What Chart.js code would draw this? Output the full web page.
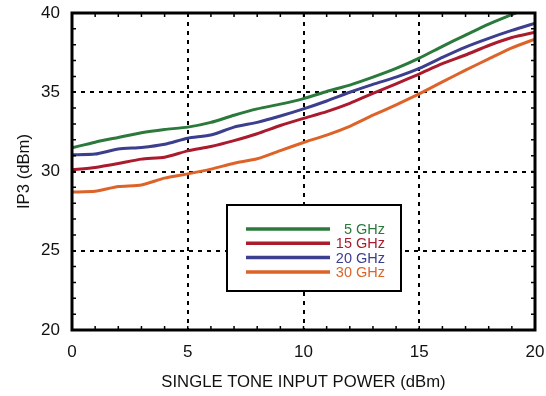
<!DOCTYPE html>
<html>
<head>
<meta charset="utf-8">
<script src="https://cdn.jsdelivr.net/npm/chart.js@4.4.1/dist/chart.umd.min.js"></script>
<style>
  html, body { margin: 0; padding: 0; background: #fff; }
  #wrap { width: 546px; height: 396px; }
</style>
</head>
<body>
<div id="wrap"><canvas id="ip3chart" width="546" height="396"></canvas></div>
<script>
// input power (dBm)
const inputPower = [0, 1, 2, 3, 4, 5, 6, 7, 8, 9, 10, 11, 12, 13, 14, 15, 16, 17, 18, 19, 20];
const seriesLabels = ['5 GHz', '15 GHz', '20 GHz', '30 GHz'];
const seriesColors = ['#2b7a3c', '#aa1b2d', '#3c3e8e', '#de6328'];
// IP3 (dBm)
const ip3_5GHz  = [31.5, 31.85, 32.15, 32.45, 32.65, 32.8, 33.1, 33.55, 33.95, 34.25, 34.6, 35.05, 35.45, 35.95, 36.5, 37.15, 37.9, 38.6, 39.3, 39.9, 40.5];
const ip3_15GHz = [30.1, 30.25, 30.5, 30.78, 30.9, 31.3, 31.58, 31.95, 32.38, 32.9, 33.35, 33.78, 34.3, 34.93, 35.53, 36.15, 36.8, 37.35, 37.95, 38.45, 38.78];
const ip3_20GHz = [31.05, 31.1, 31.42, 31.52, 31.72, 32.1, 32.3, 32.8, 33.1, 33.5, 33.95, 34.45, 35.0, 35.5, 35.95, 36.5, 37.2, 37.85, 38.4, 38.9, 39.35];
const ip3_30GHz = [28.7, 28.75, 29.05, 29.15, 29.58, 29.85, 30.15, 30.52, 30.8, 31.32, 31.83, 32.3, 32.85, 33.55, 34.2, 34.9, 35.65, 36.4, 37.1, 37.8, 38.35];
const xTicks = [0, 5, 10, 15, 20];
const yTicks = [20, 25, 30, 35, 40];

const allSeries = [ip3_5GHz, ip3_15GHz, ip3_20GHz, ip3_30GHz];
const FONT = 'Liberation Sans, Arial, Helvetica, sans-serif';

function toPoints(ys) {
  return inputPower.map(function (x, i) { return { x: x, y: ys[i] }; });
}

// frame, inside minor ticks and boxed legend
const framePlugin = {
  id: 'frame',
  afterDatasetsDraw: function (chart) {
    const ctx = chart.ctx;
    const a = chart.chartArea;
    const xs = chart.scales.x, ys = chart.scales.y;
    ctx.save();
    ctx.strokeStyle = '#000';
    ctx.lineWidth = 1.5;
    ctx.beginPath();
    for (let v = 1; v < 20; v++) {
      const px = xs.getPixelForValue(v);
      ctx.moveTo(px, a.bottom); ctx.lineTo(px, a.bottom - 4);
      ctx.moveTo(px, a.top); ctx.lineTo(px, a.top + 4);
    }
    for (let v = 21; v < 40; v++) {
      const py = ys.getPixelForValue(v);
      ctx.moveTo(a.left, py); ctx.lineTo(a.left + 4, py);
      ctx.moveTo(a.right, py); ctx.lineTo(a.right - 4, py);
    }
    ctx.stroke();
    ctx.lineWidth = 3;
    ctx.strokeRect(a.left, a.top, a.right - a.left, a.bottom - a.top);

    // legend box
    const bx = a.left + 155, by = a.top + 192, bw = 174, bh = 86;
    ctx.fillStyle = '#fff';
    ctx.fillRect(bx, by, bw, bh);
    ctx.lineWidth = 2;
    ctx.strokeRect(bx, by, bw, bh);
    ctx.font = '14.5px ' + FONT;
    ctx.textAlign = 'right';
    ctx.textBaseline = 'middle';
    chart.data.datasets.forEach(function (ds, i) {
      const ry = by + 24 + i * 14.3;
      ctx.strokeStyle = ds.borderColor;
      ctx.lineWidth = 3.5;
      ctx.beginPath();
      ctx.moveTo(bx + 19, ry); ctx.lineTo(bx + 103, ry);
      ctx.stroke();
      ctx.fillStyle = ds.borderColor;
      ctx.fillText(ds.label, bx + 158, ry + 1);
    });
    ctx.restore();
  }
};

const chartdata = {
  datasets: allSeries.map(function (ys, i) {
    return {
      label: seriesLabels[i],
      data: toPoints(ys),
      borderColor: seriesColors[i],
      backgroundColor: seriesColors[i],
      borderWidth: 3,
      pointRadius: 0,
      tension: 0.2,
      fill: false
    };
  })
};

const config = {
  type: 'line',
  data: chartdata,
  options: {
    responsive: false,
    animation: false,
    layout: { padding: { top: 13, right: 11, left: 0, bottom: 0 } },
    plugins: {
      legend: { display: false },
      tooltip: { enabled: false }
    },
    scales: {
      x: {
        type: 'linear',
        min: 0,
        max: 20,
        afterBuildTicks: function (scale) { scale.ticks = xTicks.map(function (v) { return { value: v }; }); },
        afterFit: function (scale) { scale.height = 66; scale.paddingLeft = 0; scale.paddingRight = 0; },
        ticks: { padding: 12, color: '#111', font: { family: FONT, size: 17 } },
        grid: {
          drawTicks: false,
          lineWidth: 2,
          color: function (c) { return (c.tick && (c.tick.value === 0 || c.tick.value === 20)) ? 'rgba(0,0,0,0)' : '#000'; }
        },
        border: { display: false, dash: [4, 5] },
        title: {
          display: true,
          text: 'SINGLE TONE INPUT POWER (dBm)',
          color: '#111',
          font: { family: FONT, size: 16.7 },
          padding: { top: 4, bottom: 4 }
        }
      },
      y: {
        min: 20,
        max: 40,
        afterBuildTicks: function (scale) { scale.ticks = yTicks.map(function (v) { return { value: v }; }); },
        afterFit: function (scale) { scale.width = 72; scale.paddingTop = 0; scale.paddingBottom = 0; },
        ticks: { padding: 12, color: '#111', font: { family: FONT, size: 17 } },
        grid: {
          drawTicks: false,
          lineWidth: 2,
          color: function (c) { return (c.tick && (c.tick.value === 20 || c.tick.value === 40)) ? 'rgba(0,0,0,0)' : '#000'; }
        },
        border: { display: false, dash: [4, 5] },
        title: {
          display: true,
          text: 'IP3 (dBm)',
          color: '#111',
          font: { family: FONT, size: 16.7 },
          padding: { top: 14, bottom: 0 }
        }
      }
    }
  },
  plugins: [framePlugin]
};

let ip3chart = new Chart(document.getElementById('ip3chart'), config);
</script>
</body>
</html>
